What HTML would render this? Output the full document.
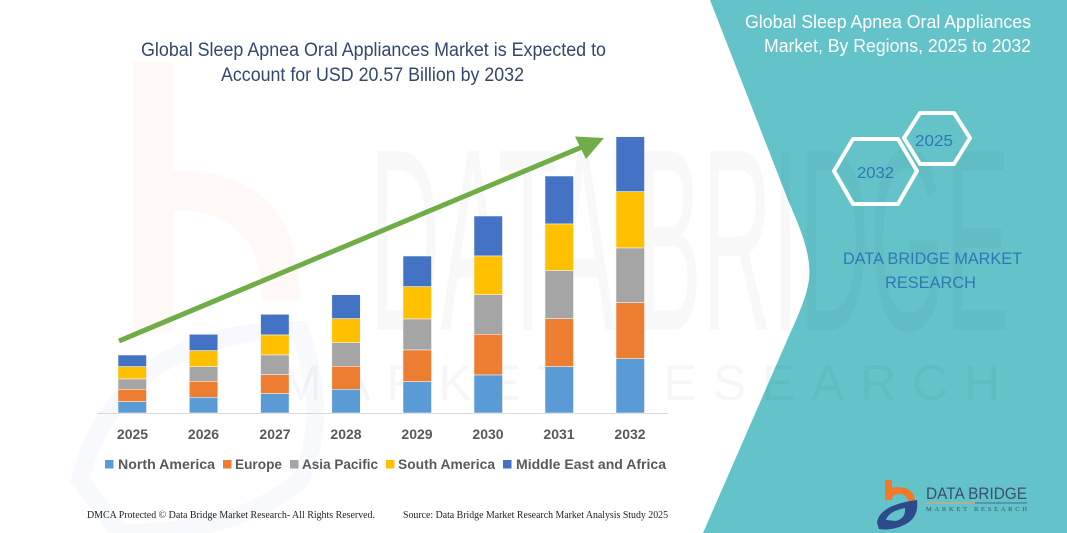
<!DOCTYPE html>
<html>
<head>
<meta charset="utf-8">
<style>
html,body{margin:0;padding:0;background:#fff;}
svg{display:block;}
</style>
</head>
<body>
<svg width="1067" height="533" viewBox="0 0 1067 533" xmlns="http://www.w3.org/2000/svg">
  <rect x="0" y="0" width="1067" height="533" fill="#ffffff"/>

  <!-- faint watermark: orange b and blue swoosh -->
  <g opacity="0.06">
    <rect x="133" y="62" width="40" height="270" fill="#f4a070"/>
    <path d="M173,170 Q300,170 300,300 L262,300 Q262,210 173,210 Z" fill="#f4a070"/>
    <path d="M80,480 Q120,330 300,330 Q330,420 300,480 Q240,533 120,533 Z" fill="none" stroke="#7fa0d0" stroke-width="18"/>
  </g>

  <!-- teal panel -->
  <path d="M710,0 L1067,0 L1067,533 L703,533 L785,345 C795,322 806,300 809,280 C812,255 800,228 788,200 Z" fill="#63c3c9"/>

  <!-- faint watermark letters -->
  <g font-family="Liberation Sans, sans-serif" opacity="0.025" fill="#000">
    <text x="370" y="330" font-size="260" textLength="640" lengthAdjust="spacingAndGlyphs">DATA BRIDGE</text>
  </g>
  <g font-family="Liberation Sans, sans-serif" opacity="0.03" fill="#000">
    <text x="280" y="400" font-size="50" textLength="720" lengthAdjust="spacing">MARKET RESEARCH</text>
  </g>

  <!-- main title -->
  <g font-family="Liberation Sans, sans-serif" fill="#33476d" font-size="19">
    <text x="141" y="56" textLength="465" lengthAdjust="spacingAndGlyphs">Global Sleep Apnea Oral Appliances Market is Expected to</text>
    <text x="221" y="81" textLength="303" lengthAdjust="spacingAndGlyphs">Account for USD 20.57 Billion by 2032</text>
  </g>

  <!-- right title -->
  <g font-family="Liberation Sans, sans-serif" fill="#ffffff" font-size="18">
    <text x="745" y="28" textLength="286" lengthAdjust="spacingAndGlyphs">Global Sleep Apnea Oral Appliances</text>
    <text x="764" y="52" textLength="267" lengthAdjust="spacingAndGlyphs">Market, By Regions, 2025 to 2032</text>
  </g>

  <!-- hexagons -->
  <g fill="none" stroke="#ffffff" stroke-width="4" stroke-linejoin="round">
    <polygon points="834,171 853,139 898,139 917,171 898,204 853,204"/>
    <polygon points="904,138 920,113 954,113 970,138 954,164 920,164"/>
  </g>
  <g font-family="Liberation Sans, sans-serif" fill="#2f78b4" font-size="16">
    <text x="857" y="178" textLength="37" lengthAdjust="spacingAndGlyphs">2032</text>
    <text x="915" y="146" textLength="38" lengthAdjust="spacingAndGlyphs">2025</text>
  </g>
  <g font-family="Liberation Sans, sans-serif" fill="#2f78b4" font-size="17">
    <text x="843" y="264" textLength="179" lengthAdjust="spacingAndGlyphs">DATA BRIDGE MARKET</text>
    <text x="885" y="288" textLength="91" lengthAdjust="spacingAndGlyphs">RESEARCH</text>
  </g>

  <!-- axis line -->
  <line x1="97" y1="413.5" x2="668" y2="413.5" stroke="#d9d9d9" stroke-width="1"/>

  <!-- bars -->
  <g stroke="#f2f2f2" stroke-width="0.6">
    <!-- 2025 -->
    <rect x="118" y="355" width="28.5" height="11.7" fill="#4472c4"/>
    <rect x="118" y="366.7" width="28.5" height="12.3" fill="#ffc000"/>
    <rect x="118" y="379" width="28.5" height="10.3" fill="#a5a5a5"/>
    <rect x="118" y="389.3" width="28.5" height="12.4" fill="#ed7d31"/>
    <rect x="118" y="401.7" width="28.5" height="11.3" fill="#5b9bd5"/>
    <!-- 2026 -->
    <rect x="189.3" y="334.3" width="28.5" height="16.4" fill="#4472c4"/>
    <rect x="189.3" y="350.7" width="28.5" height="16" fill="#ffc000"/>
    <rect x="189.3" y="366.7" width="28.5" height="14.6" fill="#a5a5a5"/>
    <rect x="189.3" y="381.3" width="28.5" height="16" fill="#ed7d31"/>
    <rect x="189.3" y="397.3" width="28.5" height="15.7" fill="#5b9bd5"/>
    <!-- 2027 -->
    <rect x="260.6" y="314.3" width="28.5" height="20.7" fill="#4472c4"/>
    <rect x="260.6" y="335" width="28.5" height="20" fill="#ffc000"/>
    <rect x="260.6" y="355" width="28.5" height="19.7" fill="#a5a5a5"/>
    <rect x="260.6" y="374.7" width="28.5" height="19" fill="#ed7d31"/>
    <rect x="260.6" y="393.7" width="28.5" height="19.3" fill="#5b9bd5"/>
    <!-- 2028 -->
    <rect x="331.8" y="294.7" width="28.5" height="24" fill="#4472c4"/>
    <rect x="331.8" y="318.7" width="28.5" height="24" fill="#ffc000"/>
    <rect x="331.8" y="342.7" width="28.5" height="23.6" fill="#a5a5a5"/>
    <rect x="331.8" y="366.3" width="28.5" height="23" fill="#ed7d31"/>
    <rect x="331.8" y="389.3" width="28.5" height="23.7" fill="#5b9bd5"/>
    <!-- 2029 -->
    <rect x="403" y="256" width="28.5" height="30.7" fill="#4472c4"/>
    <rect x="403" y="286.7" width="28.5" height="32.3" fill="#ffc000"/>
    <rect x="403" y="319" width="28.5" height="31" fill="#a5a5a5"/>
    <rect x="403" y="350" width="28.5" height="31.7" fill="#ed7d31"/>
    <rect x="403" y="381.7" width="28.5" height="31.3" fill="#5b9bd5"/>
    <!-- 2030 -->
    <rect x="474" y="216" width="28.5" height="40" fill="#4472c4"/>
    <rect x="474" y="256" width="28.5" height="38.7" fill="#ffc000"/>
    <rect x="474" y="294.7" width="28.5" height="39.6" fill="#a5a5a5"/>
    <rect x="474" y="334.3" width="28.5" height="40.7" fill="#ed7d31"/>
    <rect x="474" y="375" width="28.5" height="38" fill="#5b9bd5"/>
    <!-- 2031 -->
    <rect x="545" y="176" width="28.5" height="48" fill="#4472c4"/>
    <rect x="545" y="224" width="28.5" height="46.7" fill="#ffc000"/>
    <rect x="545" y="270.7" width="28.5" height="48" fill="#a5a5a5"/>
    <rect x="545" y="318.7" width="28.5" height="48" fill="#ed7d31"/>
    <rect x="545" y="366.7" width="28.5" height="46.3" fill="#5b9bd5"/>
    <!-- 2032 -->
    <rect x="616" y="136.7" width="28.5" height="55" fill="#4472c4"/>
    <rect x="616" y="191.7" width="28.5" height="56.3" fill="#ffc000"/>
    <rect x="616" y="248" width="28.5" height="54.7" fill="#a5a5a5"/>
    <rect x="616" y="302.7" width="28.5" height="56" fill="#ed7d31"/>
    <rect x="616" y="358.7" width="28.5" height="54.3" fill="#5b9bd5"/>
  </g>

  <!-- arrow -->
  <line x1="119" y1="341" x2="582" y2="147" stroke="#70ad47" stroke-width="5"/>
  <polygon points="604,138 575,136.5 586,159" fill="#70ad47"/>

  <!-- x labels -->
  <g font-family="Liberation Sans, sans-serif" font-weight="bold" font-size="14" fill="#595959" text-anchor="middle">
    <text x="132.5" y="439">2025</text>
    <text x="203.5" y="439">2026</text>
    <text x="275" y="439">2027</text>
    <text x="346" y="439">2028</text>
    <text x="417" y="439">2029</text>
    <text x="488" y="439">2030</text>
    <text x="559" y="439">2031</text>
    <text x="630" y="439">2032</text>
  </g>

  <!-- legend -->
  <rect x="105" y="460" width="8.5" height="8.5" fill="#5b9bd5"/>
  <rect x="223" y="460" width="8.5" height="8.5" fill="#ed7d31"/>
  <rect x="290" y="460" width="8.5" height="8.5" fill="#a5a5a5"/>
  <rect x="386" y="460" width="8.5" height="8.5" fill="#ffc000"/>
  <rect x="503" y="460" width="8.5" height="8.5" fill="#4472c4"/>
  <g font-family="Liberation Sans, sans-serif" font-weight="bold" font-size="14" fill="#595959">
    <text x="118" y="469" textLength="97" lengthAdjust="spacingAndGlyphs">North America</text>
    <text x="235" y="469" textLength="47" lengthAdjust="spacingAndGlyphs">Europe</text>
    <text x="302" y="469" textLength="76" lengthAdjust="spacingAndGlyphs">Asia Pacific</text>
    <text x="398" y="469" textLength="97" lengthAdjust="spacingAndGlyphs">South America</text>
    <text x="516" y="469" textLength="150" lengthAdjust="spacingAndGlyphs">Middle East and Africa</text>
  </g>

  <!-- footer -->
  <g font-family="Liberation Serif, serif" font-size="10" fill="#222">
    <text x="87" y="518" textLength="288" lengthAdjust="spacingAndGlyphs">DMCA Protected © Data Bridge Market Research- All Rights Reserved.</text>
    <text x="403" y="518" textLength="265" lengthAdjust="spacingAndGlyphs">Source: Data Bridge Market Research Market Analysis Study 2025</text>
  </g>

  <!-- logo -->
  <g>
    <rect x="885" y="480" width="7" height="16" fill="#f07a2a"/>
    <path d="M885,496 Q886,487 899,487 Q915,488 915,502 L908,502 Q907,494 899,494 Q892,494 892,500 L885,500 Z" fill="#f07a2a"/>
    <path d="M877,523 Q879,505 917,500 Q919,517 906,524 Q893,531 879,529 Z" fill="#2d4a8a"/>
    <path d="M886,520 Q889,511 905,508 Q906,518 896,521 Z" fill="#63c3c9"/>
    <text x="926" y="499" font-family="Liberation Sans, sans-serif" font-size="17" fill="#3d4f6e" textLength="101" lengthAdjust="spacingAndGlyphs">DATA BRIDGE</text>
    <line x1="926" y1="503" x2="975" y2="503" stroke="#f0a060" stroke-width="1"/>
    <line x1="975" y1="503" x2="1027" y2="503" stroke="#4a6aa0" stroke-width="1"/>
    <text x="926" y="511" font-family="Liberation Serif, serif" font-size="6.5" fill="#3d4f6e" textLength="101" lengthAdjust="spacing">MARKET RESEARCH</text>
  </g>
</svg>
</body>
</html>
